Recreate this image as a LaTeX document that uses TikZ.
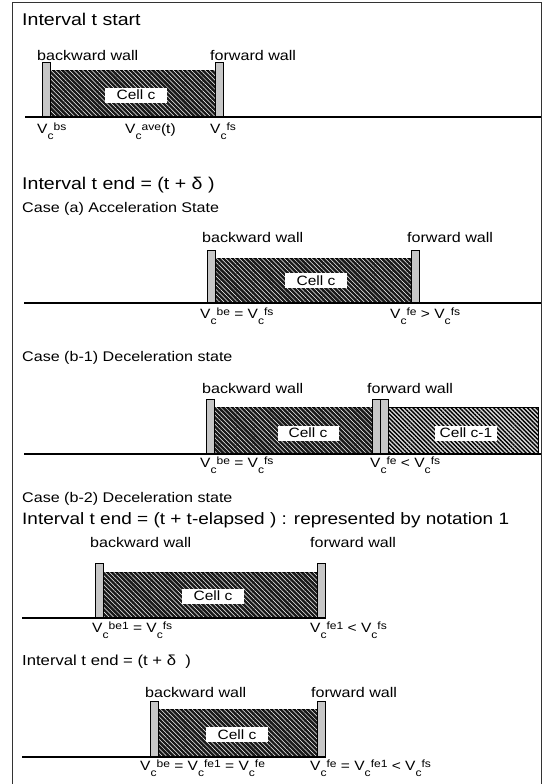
\documentclass[tikz,border=0pt]{standalone}
\usepackage{fontspec}
\setmainfont{Liberation Sans}[FakeStretch=1.15]
\usetikzlibrary{patterns.meta,positioning}

\newcommand{\fs}[1]{\fontsize{#1}{#1}\selectfont}
\newcommand{\vc}[1]{V\raisebox{-6.5pt}{\fs{10.5}c}\raisebox{2.5pt}{\fs{10.5}#1}}

\begin{document}
\begin{tikzpicture}[x=1pt, y=-1pt,
  frame/.style={draw=black!80, line width=1.4pt},
  ground/.style={draw=black, line width=1.2pt},
  wall/.style={draw=black, line width=0.8pt, fill=black!22},
  darkcell/.style={draw=black, line width=0.6pt, fill=black!90,
    postaction={pattern={Lines[angle=-45,distance=3.2pt,line width=0.5pt]}, pattern color=white}},
  lightcell/.style={draw=black, line width=0.8pt, fill=black!15,
    postaction={pattern={Lines[angle=-45,distance=3pt,line width=1.4pt]}, pattern color=black}},
  cellbox/.style={fill=white, inner sep=0pt, minimum width=62pt, minimum height=15pt, font={\fs{13.5}}},
  heading/.style={anchor=base west, inner sep=0pt, font={\fs{17}}},
  case/.style={anchor=base west, inner sep=0pt, font={\fs{14}}},
  walllabel/.style={anchor=base west, inner sep=0pt, font={\fs{14}}},
  vlabel/.style={anchor=base west, inner sep=0pt, font={\fs{13.5}}}
]
  \useasboundingbox (0,0) rectangle (546,784);
  \coordinate (fbl) at (12.5,784);
  \coordinate (ftl) at (12.5,2.5);
  \coordinate (ftr) at (541.5,2.5);
  \coordinate (fbr) at (541.5,784);
  \draw[frame] (fbl) -- (ftl) -- (ftr) -- (fbr);

  \foreach \n/\bw/\fw/\wt/\ct/\gy/\gl/\gr/\bx/\by in {
    s/42/215/62/70/117/25/541/136/95,
    a/207/411/250/258/303/24/541/316/280.5,
    e/95/317/563/572/618/22/325/213/596,
    d/150/317/701/709/757/22/325/237/734.5} {
    \path[darkcell] (\bw+8,\ct) rectangle (\fw,\gy);
    \draw[wall] (\bw,\wt) rectangle (\bw+8,\gy);
    \draw[wall] (\fw,\wt) rectangle (\fw+8,\gy);
    \node[cellbox] (cell\n) at (\bx,\by) {Cell c};
    \coordinate (gl\n) at (\gl,\gy);
    \coordinate (gr\n) at (\gr,\gy);
    \draw[ground] (gl\n) -- (gr\n);
  }

  \path[darkcell] (214,407) rectangle (372,454);
  \path[lightcell] (388,407) rectangle (538,454);
  \draw[wall] (206,399) rectangle (214,454);
  \draw[wall] (372,399) rectangle (380,454);
  \draw[wall] (380,399) rectangle (388,454);
  \node[cellbox, minimum width=61pt] (cellb) at (308,433) {Cell c};
  \node[cellbox] (cellbn) at (466,433) {Cell c-1};
  \coordinate (glb) at (24,454);
  \coordinate (grb) at (541,454);
  \draw[ground] (glb) -- (grb);

  \node[heading] (hstart) at (22,26) {Interval t start};
  \node[walllabel] (bws) at (37,60) {backward wall};
  \node[walllabel] (fws) at (210,60) {forward wall};
  \node[vlabel] (vbs) at (37,133) {\vc{bs}};
  \node[vlabel] (vave) at (125,133) {\vc{ave}(t)};
  \node[vlabel] (vfs) at (210,133) {\vc{fs}};

  \node[heading] (hend) at (22,189) {Interval t end = (t + δ )};
  \node[case] (casea) at (22,212) {Case (a) Acceleration State};
  \node[walllabel] (bwa) at (202,242) {backward wall};
  \node[walllabel] (fwa) at (407,242) {forward wall};
  \node[vlabel] (vba) at (200,318) {\vc{be} = \vc{fs}};
  \node[vlabel] (vfa) at (390,318) {\vc{fe} > \vc{fs}};

  \node[case] (caseb) at (22,361) {Case (b-1) Deceleration state};
  \node[walllabel] (bwb) at (202,393) {backward wall};
  \node[walllabel] (fwb) at (367,393) {forward wall};
  \node[vlabel] (vbb) at (200,467) {\vc{be} = \vc{fs}};
  \node[vlabel] (vfb) at (370,467) {\vc{fe} < \vc{fs}};

  \node[case] (casec) at (22,502) {Case (b-2) Deceleration state};
  \node[case, font={\fs{16.5}}] (hel) at (22,524) {Interval t end = (t + t-elapsed ) : represented by notation 1};
  \node[walllabel] (bwe) at (90,547) {backward wall};
  \node[walllabel] (fwe) at (310,547) {forward wall};
  \node[vlabel] (vbe) at (92,632) {\vc{be1} = \vc{fs}};
  \node[vlabel] (vfe) at (310,632) {\vc{fe1} < \vc{fs}};

  \node[case, font={\fs{14.5}}] (hdel) at (22,665) {Interval t end = (t + δ \ )};
  \node[walllabel] (bwd) at (145,697) {backward wall};
  \node[walllabel] (fwd) at (311,697) {forward wall};
  \node[vlabel] (vbd) at (140,770) {\vc{be} = \vc{fe1} = \vc{fe}};
  \node[vlabel] (vfd) at (310,770) {\vc{fe} = \vc{fe1} < \vc{fs}};
\end{tikzpicture}
\end{document}
